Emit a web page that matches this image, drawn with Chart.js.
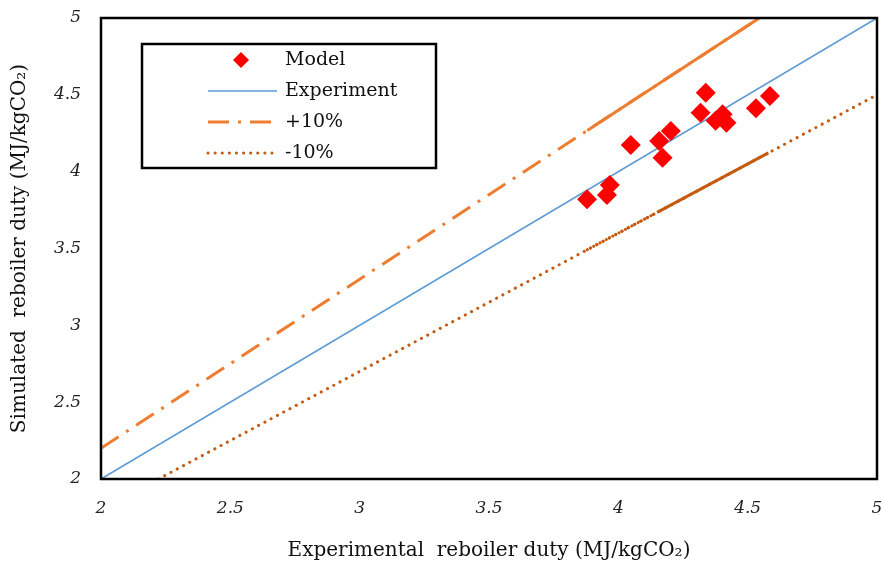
<!DOCTYPE html>
<html>
<head>
<meta charset="utf-8">
<script src="https://cdn.jsdelivr.net/npm/chart.js@4"></script>
<style>
  html, body { margin: 0; padding: 0; background: #fff; }
  #wrap { width: 882px; height: 563px; }
</style>
</head>
<body>
<div id="wrap"><canvas id="chart" width="882" height="563"></canvas></div>
<script>
// model points
var modelX = [3.879, 3.956, 3.967, 4.048, 4.158, 4.171, 4.203, 4.318, 4.338, 4.376, 4.403, 4.418, 4.532, 4.586];
var modelY = [3.820, 3.848, 3.913, 4.173, 4.199, 4.090, 4.264, 4.383, 4.513, 4.331, 4.373, 4.318, 4.412, 4.492];

// parity line and +/-10% bands
var expX = [2, 5];
var expY = [2, 5];
var plusX = [2, 4.545];
var plusY = [2.2, 5];
var minusX = [2.222, 5];
var minusY = [2, 4.5];
// parts of the bands that look solid in the original (overlapping markers)
var plusDenseX = [3.88, 4.545];
var plusDenseY = [4.268, 5];
var minusDenseX = [4.15, 4.58];
var minusDenseY = [3.735, 4.122];
var minusMidX = [3.88, 4.15];
var minusMidY = [3.492, 3.735];

var tickVals = [2, 2.5, 3, 3.5, 4, 4.5, 5];

var SERIF = "'DejaVu Serif', 'Liberation Serif', serif";
var RED = '#FF0000', BLUE = '#5B9BD5', ORANGE = '#ED7D31', DARKOR = '#C55A11';

function pts(xs, ys) {
    return xs.map(function (x, i) { return { x: x, y: ys[i] }; });
}

function lineSet(label, xs, ys, color, width, dash, cap) {
    return {
        label: label,
        data: pts(xs, ys),
        showLine: true,
        borderColor: color,
        backgroundColor: color,
        borderWidth: width,
        borderDash: dash,
        borderCapStyle: cap || 'butt',
        pointRadius: 0,
        fill: false
    };
}

var plotFrame = {
    id: 'plotFrame',
    afterDatasetsDraw: function (chart) {
        var a = chart.chartArea, ctx = chart.ctx;
        ctx.save();
        ctx.strokeStyle = '#000';
        ctx.lineWidth = 2.5;
        ctx.strokeRect(a.left, a.top, a.right - a.left, a.bottom - a.top);
        ctx.restore();
    }
};

// legend box drawn inside the plot like the original
var boxLegend = {
    id: 'boxLegend',
    afterDraw: function (chart) {
        var ctx = chart.ctx;
        var sets = chart.data.datasets;
        ctx.save();
        ctx.fillStyle = '#fff';
        ctx.fillRect(142, 44, 294, 124);
        ctx.strokeStyle = '#000';
        ctx.lineWidth = 2.5;
        ctx.strokeRect(142, 44, 294, 124);

        var rows = [
            { ds: sets[0], y: 60 },
            { ds: sets[1], y: 91 },
            { ds: sets[2], y: 122 },
            { ds: sets[3], y: 153 }
        ];
        ctx.font = '19px ' + SERIF;
        ctx.textBaseline = 'middle';
        ctx.textAlign = 'left';
        rows.forEach(function (r, i) {
            var ds = r.ds;
            if (i === 0) {
                ctx.fillStyle = RED;
                ctx.beginPath();
                ctx.moveTo(241, r.y - 8); ctx.lineTo(249, r.y); ctx.lineTo(241, r.y + 8); ctx.lineTo(233, r.y);
                ctx.closePath();
                ctx.fill();
            } else {
                ctx.beginPath();
                ctx.strokeStyle = ds.borderColor;
                ctx.lineWidth = ds.borderWidth;
                ctx.setLineDash(ds.borderDash || []);
                ctx.lineCap = ds.borderCapStyle;
                ctx.moveTo(208, r.y);
                ctx.lineTo(277, r.y);
                ctx.stroke();
                ctx.setLineDash([]);
            }
            ctx.fillStyle = '#111';
            ctx.fillText(ds.label, 285, r.y);
        });
        ctx.restore();
    }
};

var ctx = document.getElementById('chart').getContext('2d');

var myChart = new Chart(ctx, {
    type: 'scatter',
    data: {
        datasets: [
            {
                label: 'Model',
                data: pts(modelX, modelY),
                pointStyle: 'rectRot',
                pointRadius: 10,
                pointBackgroundColor: RED,
                pointBorderColor: RED,
                pointBorderWidth: 0,
                showLine: false,
                order: -1
            },
            lineSet('Experiment', expX, expY, BLUE, 1.6, []),
            lineSet('+10%', plusX, plusY, ORANGE, 3, [21, 9, 3, 9]),
            lineSet('-10%', minusX, minusY, DARKOR, 3, [0.1, 7], 'round'),
            lineSet('+10% dense', plusDenseX, plusDenseY, ORANGE, 3, []),
            lineSet('-10% dense', minusDenseX, minusDenseY, DARKOR, 3, []),
            lineSet('-10% mid', minusMidX, minusMidY, DARKOR, 3, [0.1, 3.5], 'round')
        ]
    },
    options: {
        responsive: false,
        animation: false,
        layout: { autoPadding: false, padding: { top: 18, right: 5, left: 0, bottom: 0 } },
        plugins: {
            legend: { display: false },
            tooltip: { enabled: false }
        },
        scales: {
            x: {
                type: 'linear',
                min: 2,
                max: 5,
                grid: { display: false },
                border: { display: false },
                afterBuildTicks: function (axis) {
                    axis.ticks = tickVals.map(function (v) { return { value: v }; });
                },
                ticks: {
                    color: '#222',
                    padding: 11,
                    maxRotation: 0,
                    font: { family: SERIF, size: 17, style: 'italic' },
                    callback: function (v) { return String(v); }
                },
                title: {
                    display: true,
                    text: 'Experimental  reboiler duty (MJ/kgCO\u2082)',
                    color: '#111',
                    padding: { top: 14, bottom: 0 },
                    font: { family: SERIF, size: 20 }
                },
                afterFit: function (axis) {
                    axis.height = 84;
                    axis.paddingLeft = 0;
                    axis.paddingRight = 0;
                }
            },
            y: {
                type: 'linear',
                min: 2,
                max: 5,
                grid: { display: false },
                border: { display: false },
                afterBuildTicks: function (axis) {
                    axis.ticks = tickVals.map(function (v) { return { value: v }; });
                },
                ticks: {
                    color: '#222',
                    padding: 12,
                    font: { family: SERIF, size: 17, style: 'italic' },
                    callback: function (v) { return String(v); }
                },
                title: {
                    display: true,
                    text: 'Simulated  reboiler duty (MJ/kgCO\u2082)',
                    color: '#111',
                    padding: { top: 8, bottom: 4 },
                    font: { family: SERIF, size: 20 }
                },
                afterFit: function (axis) {
                    axis.width = 101;
                    axis.paddingTop = 0;
                    axis.paddingBottom = 0;
                }
            }
        }
    },
    plugins: [plotFrame, boxLegend]
});
</script>
</body>
</html>
